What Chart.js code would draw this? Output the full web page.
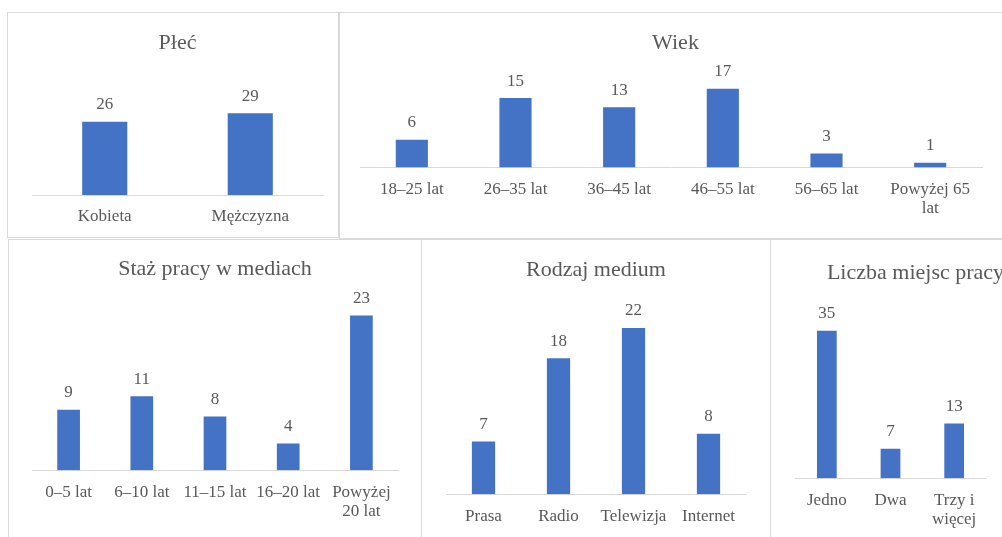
<!DOCTYPE html>
<html lang="pl">
<head>
<meta charset="utf-8">
<title>Charakterystyka respondentów</title>
<script src="https://cdn.jsdelivr.net/npm/chart.js"></script>
<style>
  html, body { margin: 0; padding: 0; background: #fff; }
  body { width: 1002px; height: 537px; overflow: hidden; position: relative; }
  .panel { position: absolute; box-sizing: border-box; border: 1px solid #d9d9d9; background: #fff; }
  .panel canvas { position: absolute; left: -1px; top: -1px; }
</style>
</head>
<body>
<div class="panel" style="left:7px;top:12px;width:332px;height:226px"><canvas id="plec-chart" width="332" height="226"></canvas></div>
<div class="panel" style="left:339px;top:12px;width:673px;height:227px"><canvas id="wiek-chart" width="673" height="227"></canvas></div>
<div class="panel" style="left:8px;top:239px;width:414px;height:310px"><canvas id="staz-chart" width="414" height="310"></canvas></div>
<div class="panel" style="left:421px;top:239px;width:351px;height:310px"><canvas id="medium-chart" width="351" height="310"></canvas></div>
<div class="panel" style="left:770px;top:239px;width:291px;height:310px"><canvas id="miejsca-chart" width="291" height="310"></canvas></div>
<script>
// Dane
const plecLabels = ['Kobieta', 'Mężczyzna'];
const plecValues = [26, 29];

const wiekLabels = ['18–25 lat', '26–35 lat', '36–45 lat', '46–55 lat', '56–65 lat', ['Powyżej 65', 'lat']];
const wiekValues = [6, 15, 13, 17, 3, 1];

const stazLabels = ['0–5 lat', '6–10 lat', '11–15 lat', '16–20 lat', ['Powyżej', '20 lat']];
const stazValues = [9, 11, 8, 4, 23];

const mediumLabels = ['Prasa', 'Radio', 'Telewizja', 'Internet'];
const mediumValues = [7, 18, 22, 8];

const miejscaLabels = ['Jedno', 'Dwa', ['Trzy i', 'więcej']];
const miejscaValues = [35, 7, 13];

document.addEventListener("DOMContentLoaded", () => {
  const FONT = '"Liberation Serif", "Times New Roman", serif';
  const TEXT = '#595959';
  const BAR = '#4472C4';

  // Etykiety wartości nad słupkami
  const valueLabels = {
    id: 'valueLabels',
    afterDatasetsDraw(chart) {
      const ctx = chart.ctx;
      const values = chart.data.datasets[0].data;
      ctx.save();
      ctx.font = '17px ' + FONT;
      ctx.fillStyle = TEXT;
      ctx.textAlign = 'center';
      ctx.textBaseline = 'alphabetic';
      chart.getDatasetMeta(0).data.forEach((bar, i) => {
        ctx.fillText(String(values[i]), bar.x, bar.y - 12.5);
      });
      ctx.restore();
    }
  };

  // Wspólna konfiguracja wykresu słupkowego
  function makeChart(id, title, labels, values, opts) {
    const canvas = document.getElementById(id);
    const h = canvas.height;
    return new Chart(canvas.getContext('2d'), {
      type: 'bar',
      data: {
        labels: labels,
        datasets: [{
          data: values,
          backgroundColor: BAR,
          borderWidth: 0,
          barPercentage: 1,
          categoryPercentage: 0.31
        }]
      },
      options: {
        responsive: false,
        animation: false,
        events: [],
        layout: { padding: { left: opts.padL, right: opts.padR, top: 0, bottom: 0 } },
        plugins: {
          legend: { display: false },
          tooltip: { enabled: false },
          title: {
            display: true,
            text: title,
            color: TEXT,
            font: { family: FONT, size: 22, weight: 'normal', lineHeight: 1.2 },
            padding: { top: opts.titleY - 13.2, bottom: 10 }
          }
        },
        scales: {
          x: {
            grid: { display: false, drawTicks: false },
            border: { display: true, color: '#d9d9d9', width: 1 },
            ticks: {
              color: TEXT,
              font: { family: FONT, size: 17, lineHeight: 1.12 },
              padding: 12.5,
              maxRotation: 0,
              autoSkip: false
            },
            afterFit: (scale) => { scale.height = h - opts.axisY; }
          },
          y: {
            display: opts.extraRight > 0,
            position: 'right',
            min: 0,
            max: opts.max,
            grid: { display: false, drawTicks: false },
            border: { display: false },
            ticks: { display: false },
            afterFit: (scale) => { scale.width = opts.extraRight; }
          }
        }
      },
      plugins: [valueLabels]
    });
  }

  makeChart('plec-chart', 'Płeć', plecLabels, plecValues,
    { padL: 25, padR: 16, extraRight: 0, titleY: 31, axisY: 183, max: 45.7 });
  makeChart('wiek-chart', 'Wiek', wiekLabels, wiekValues,
    { padL: 21, padR: 21, extraRight: 9, titleY: 31, axisY: 155.5, max: 21.9 });
  makeChart('staz-chart', 'Staż pracy w mediach', stazLabels, stazValues,
    { padL: 24, padR: 24, extraRight: 0, titleY: 30.5, axisY: 231.3, max: 26.4 });
  makeChart('medium-chart', 'Rodzaj medium', mediumLabels, mediumValues,
    { padL: 25, padR: 26, extraRight: 0, titleY: 31, axisY: 255.3, max: 26.6 });
  makeChart('miejsca-chart', 'Liczba miejsc pracy', miejscaLabels, miejscaValues,
    { padL: 25, padR: 25, extraRight: 50, titleY: 34.3, axisY: 239.3, max: 43.1 });
});
</script>
</body>
</html>
